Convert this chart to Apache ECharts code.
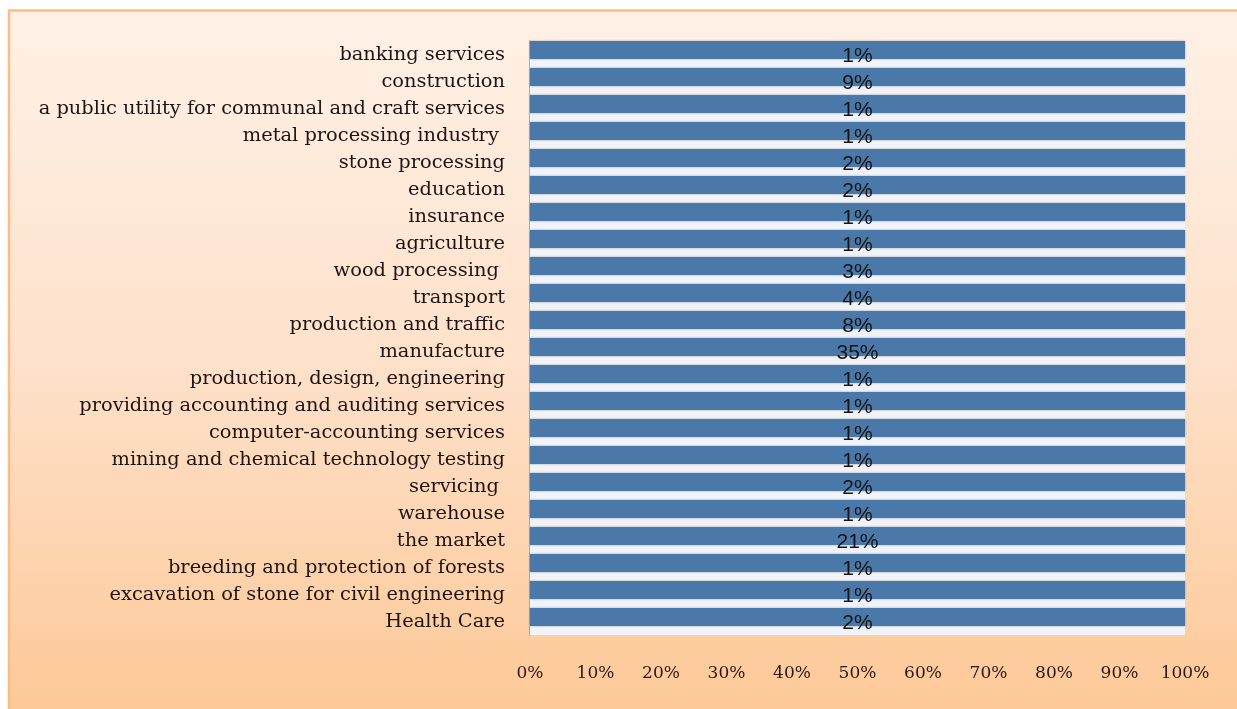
<!DOCTYPE html>
<html>
<head>
<meta charset="utf-8">
<script src="https://cdn.jsdelivr.net/npm/echarts@6/dist/echarts.min.js"></script>
<style>
  html, body { margin: 0; padding: 0; background: #ffffff; }
  #chart { width: 1237px; height: 709px; }
</style>
</head>
<body>
<div id="chart"></div>
<script>
// Sectors, top to bottom
const categories = [
  'banking services',
  'construction',
  'a public utility for communal and craft services',
  'metal processing industry ',
  'stone processing',
  'education',
  'insurance',
  'agriculture',
  'wood processing ',
  'transport',
  'production and traffic',
  'manufacture',
  'production, design, engineering',
  'providing accounting and auditing services',
  'computer-accounting services',
  'mining and chemical technology testing',
  'servicing ',
  'warehouse',
  'the market',
  'breeding and protection of forests',
  'excavation of stone for civil engineering',
  'Health Care'
];

// Share of each sector (%)
const shares = [1, 9, 1, 1, 2, 2, 1, 1, 3, 4, 8, 35, 1, 1, 1, 1, 2, 1, 21, 1, 1, 2];

// Value-axis tick labels
const xTicks = ['0%', '10%', '20%', '30%', '40%', '50%', '60%', '70%', '80%', '90%', '100%'];

// 100% stacked bar with a single series: each row is normalised by its own total
const rowTotals = shares.slice();
const rowPercent = shares.map((v, i) => v / rowTotals[i] * 100);

const chart = echarts.init(document.getElementById('chart'), null, { renderer: 'canvas' });

const serif = '"DejaVu Serif", "Liberation Serif", serif';

chart.setOption({
  animation: false,
  backgroundColor: '#ffffff',
  graphic: [{
    type: 'rect',
    z: -10,
    silent: true,
    shape: { x: 9, y: 10.5, width: 1240, height: 710 },
    style: {
      fill: new echarts.graphic.LinearGradient(0, 0, 0, 1, [
        { offset: 0, color: '#fff1e7' },
        { offset: 0.5, color: '#fee1ca' },
        { offset: 1, color: '#fdc896' }
      ]),
      stroke: '#fbbd86',
      lineWidth: 2.5
    }
  }],
  grid: {
    left: 530,
    right: 52,
    top: 41,
    height: 594,
    containLabel: false
  },
  xAxis: {
    type: 'value',
    min: 0,
    max: 100,
    interval: 10,
    axisLine: { show: false },
    axisTick: { show: false },
    splitLine: { show: false },
    axisLabel: {
      margin: 30,
      color: '#2a1a1a',
      fontFamily: serif,
      fontSize: 17,
      formatter: (v) => xTicks[Math.round(v / 10)]
    }
  },
  yAxis: {
    type: 'category',
    data: categories,
    inverse: true,
    axisLine: { show: true, lineStyle: { color: '#9a9a9a', width: 1.5 } },
    axisTick: { show: false },
    splitLine: { show: false },
    axisLabel: {
      margin: 25,
      color: '#1f1414',
      fontFamily: serif,
      fontSize: 19.4
    }
  },
  series: [
    {
      name: 'share',
      type: 'bar',
      stack: 'front',
      barWidth: 18,
      barGap: '0%',
      data: rowPercent,
      itemStyle: {
        color: '#4a79a9',
        shadowColor: 'rgba(60,60,70,0.45)',
        shadowBlur: 2
      },
      label: {
        show: true,
        position: 'inside',
        offset: [0, 6],
        color: '#141414',
        fontFamily: '"Liberation Sans", Arial, sans-serif',
        fontSize: 21,
        formatter: (p) => shares[p.dataIndex] + '%'
      },
      z: 3
    },
    {
      name: 'top face',
      type: 'bar',
      stack: 'face',
      barWidth: 9,
      barGap: '0%',
      data: rowPercent,
      itemStyle: { color: '#f0f3f8' },
      silent: true,
      z: 2
    }
  ]
});
</script>
</body>
</html>
